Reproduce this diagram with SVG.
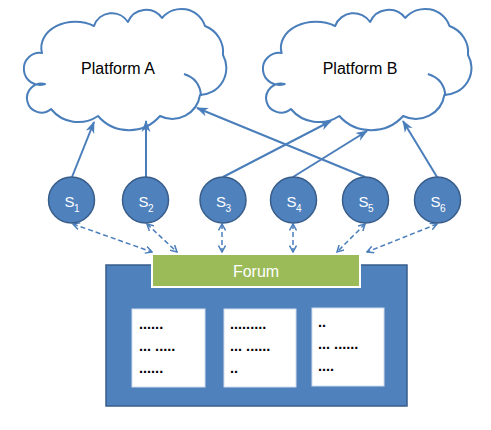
<svg xmlns="http://www.w3.org/2000/svg" width="491" height="430" viewBox="0 0 491 430">
<style>
.cloud{fill:#fff;stroke:#4A7EBB;stroke-width:2;stroke-linejoin:round}
.tail{fill:none;stroke:#4A7EBB;stroke-width:2}
.ptxt{font-family:"Liberation Sans",Arial,sans-serif;font-size:16px;fill:#000;text-anchor:middle}
.node{fill:#4F81BD;stroke:#385D8A;stroke-width:1.5}
.stxt{font-family:"Liberation Sans",Arial,sans-serif;font-size:15px;fill:#fff}
.sub{font-size:10px}
.solid{stroke:#4A7EBB;stroke-width:2;fill:none;marker-end:url(#ah)}
.dash{stroke:#4A7EBB;stroke-width:1.5;fill:none;stroke-dasharray:5,3;marker-start:url(#dh);marker-end:url(#dh)}
.dots{font-family:"Liberation Sans",Arial,sans-serif;font-size:14.5px;font-weight:bold;fill:#000}
.card{fill:#fff;stroke:#D0DDEE;stroke-width:1}
</style>
<defs>
<marker id="ah" viewBox="0 0 12 10" refX="11" refY="5" markerWidth="12" markerHeight="10" markerUnits="userSpaceOnUse" orient="auto">
<path d="M0,0.5 L12,5 L0,9.5 L3.5,5 z" fill="#4A7EBB"/>
</marker>
<marker id="dh" viewBox="0 0 8 8" refX="7" refY="4" markerWidth="8" markerHeight="8" markerUnits="userSpaceOnUse" orient="auto-start-reverse">
<path d="M0.5,0.5 L7,4 L0.5,7.5" fill="none" stroke="#4A7EBB" stroke-width="1.5"/>
</marker>
<g id="cloudshape">
<path class="cloud" d="M42,53 A34,26 0 0 1 94,26 A19,19 0 0 1 128,22 A19.5,19.5 0 0 1 162,18 A25,25 0 0 1 205,26 A28,28 0 0 1 223,55 A27,27 0 0 1 200,95 A28,28 0 0 1 160,116 A41,41 0 0 1 98,116 A35,35 0 0 1 51,109 A14.5,14.5 0 1 1 45,84 A16,16 0 1 1 42,53 Z"/>
<path class="tail" d="M184,74 Q200,79 201,96"/>
</g>
</defs>
<g id="platformA">
<use href="#cloudshape"/>
<text class="ptxt" x="118" y="74">Platform A</text>
</g>
<g id="platformB">
<use href="#cloudshape" transform="translate(261,0) scale(1.03,1) translate(-22,0)"/>
<text class="ptxt" x="360" y="74">Platform B</text>
</g>
<g id="connectors">
<line class="solid" x1="72" y1="177" x2="94" y2="122"/>
<line class="solid" x1="146" y1="177" x2="146" y2="121"/>
<line class="solid" x1="223" y1="177" x2="331" y2="121"/>
<line class="solid" x1="293" y1="177" x2="367" y2="131"/>
<line class="solid" x1="365" y1="177" x2="197" y2="108"/>
<line class="solid" x1="437" y1="177" x2="403" y2="121"/>
<line class="dash" x1="73" y1="224" x2="152" y2="252"/>
<line class="dash" x1="147" y1="224" x2="177" y2="252"/>
<line class="dash" x1="222" y1="224" x2="222" y2="252"/>
<line class="dash" x1="293" y1="224" x2="293" y2="252"/>
<line class="dash" x1="365" y1="224" x2="337" y2="252"/>
<line class="dash" x1="437" y1="224" x2="367" y2="252"/>
</g>
<g id="S1"><circle class="node" cx="71.5" cy="200" r="23"/><text class="stxt" x="64.5" y="207">S<tspan class="sub" x="74" y="212">1</tspan></text></g>
<g id="S2"><circle class="node" cx="145.5" cy="200" r="23"/><text class="stxt" x="138.5" y="207">S<tspan class="sub" x="148" y="212">2</tspan></text></g>
<g id="S3"><circle class="node" cx="223" cy="200" r="23"/><text class="stxt" x="216" y="207">S<tspan class="sub" x="225.5" y="212">3</tspan></text></g>
<g id="S4"><circle class="node" cx="293.5" cy="200" r="23"/><text class="stxt" x="286.5" y="207">S<tspan class="sub" x="296" y="212">4</tspan></text></g>
<g id="S5"><circle class="node" cx="365.5" cy="200" r="23"/><text class="stxt" x="358.5" y="207">S<tspan class="sub" x="368" y="212">5</tspan></text></g>
<g id="S6"><circle class="node" cx="437.5" cy="200" r="23"/><text class="stxt" x="430.5" y="207">S<tspan class="sub" x="440" y="212">6</tspan></text></g>
<g id="forumPanel">
<rect x="106" y="265" width="301" height="141" fill="#4F81BD" stroke="#385D8A" stroke-width="1.5"/>
<rect class="card" x="132" y="309" width="73" height="78"/>
<rect class="card" x="224" y="309" width="72" height="78"/>
<rect class="card" x="312" y="308" width="72" height="78"/>
<text class="dots" x="139" y="329">......</text>
<text class="dots" x="139" y="351">... .....</text>
<text class="dots" x="139" y="373">......</text>
<text class="dots" x="230" y="329">.........</text>
<text class="dots" x="230" y="351">... ......</text>
<text class="dots" x="230" y="373">..</text>
<text class="dots" x="318" y="327">..</text>
<text class="dots" x="318" y="349">... ......</text>
<text class="dots" x="318" y="371">....</text>
</g>
<g id="forum">
<rect x="152" y="254" width="208" height="33" fill="#9BBB59" stroke="#fff" stroke-width="2"/>
<text x="256" y="277" font-family="Liberation Sans, Arial, sans-serif" font-size="16" fill="#fff" text-anchor="middle">Forum</text>
</g>
</svg>
